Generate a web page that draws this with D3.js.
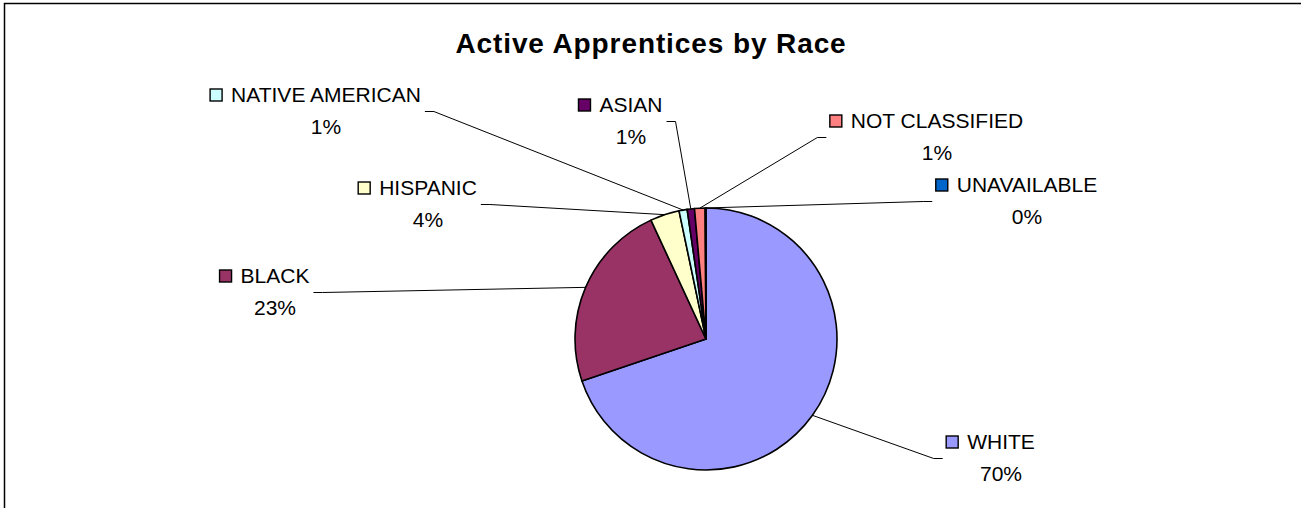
<!DOCTYPE html>
<html>
<head>
<meta charset="utf-8">
<script src="https://cdn.jsdelivr.net/npm/d3@7"></script>
<style>
  body { margin: 0; background: #fff; overflow: hidden; }
  svg { display: block; }
  text { font-family: "Liberation Sans", Arial, sans-serif; fill: #000; }
</style>
</head>
<body>
<div class="content"></div>
<script>
var categories = ['WHITE', 'BLACK', 'HISPANIC', 'NATIVE AMERICAN', 'ASIAN', 'NOT CLASSIFIED', 'UNAVAILABLE'];
var values = [69.8, 23.3, 3.6, 1.0, 0.9, 1.3, 0.1];
var colors = ['#9999FF', '#993366', '#FFFFCC', '#CCFFFF', '#660066', '#FF8080', '#0066CC'];
var title = 'Active Apprentices by Race';

// where the labels were dragged to (text centre x, first baseline y)
var labelPos = [
    [1001, 449], [275, 283], [428, 195], [326, 102],
    [631, 112], [937, 128], [1027, 192]
];

var chart = {
    width: 1301,
    height: 508,
    cx: 706,
    cy: 339,
    radius: 131,
    fontSize: 21,
    lineGap: 32
};

window.onload = function() {
    var svg = d3.select('.content').append('svg')
        .attr('width', chart.width)
        .attr('height', chart.height);

    // chart frame: only the top and left edges fall inside the picture
    svg.append('path')
        .attr('d', 'M4.5,' + chart.height + 'V3.5H' + chart.width)
        .style('fill', 'none')
        .style('stroke', '#000')
        .style('stroke-width', 1.5);

    svg.append('text')
        .attr('x', 651).attr('y', 53)
        .attr('text-anchor', 'middle')
        .style('font-size', '28px')
        .style('font-weight', 'bold')
        .style('letter-spacing', '0.9px')
        .text(title);

    var data = categories.map(function(c, i) {
        return { name: c, value: values[i], color: colors[i] };
    });
    var total = d3.sum(values);
    var fmt = d3.format('.0%');

    var pie = d3.pie().sort(null).value(function(d) { return d.value; });
    var arcs = pie(data);
    var arc = d3.arc().innerRadius(0).outerRadius(chart.radius);
    var edge = d3.arc().innerRadius(chart.radius).outerRadius(chart.radius);

    var leaders = svg.append('g');
    var g = svg.append('g')
        .attr('transform', 'translate(' + chart.cx + ',' + chart.cy + ')');

    g.selectAll('path.slice')
        .data(arcs)
        .enter().append('path')
        .attr('class', 'slice')
        .attr('d', arc)
        .style('fill', function(d) { return d.data.color; })
        .style('stroke', '#000')
        .style('stroke-width', 1.6)
        .style('stroke-linejoin', 'round');

    var labels = svg.append('g');
    arcs.forEach(function(d, i) {
        var lx = labelPos[i][0], ly = labelPos[i][1];
        var lab = labels.append('g');
        var name = lab.append('text')
            .attr('x', lx).attr('y', ly)
            .attr('text-anchor', 'middle')
            .style('font-size', chart.fontSize + 'px')
            .text(d.data.name);
        lab.append('text')
            .attr('x', lx).attr('y', ly + chart.lineGap)
            .attr('text-anchor', 'middle')
            .style('font-size', chart.fontSize + 'px')
            .text(fmt(d.data.value / total));

        var w = name.node().getComputedTextLength();
        var left = lx - w / 2, right = lx + w / 2;
        var mx = left - 21;
        lab.append('rect')
            .attr('x', mx).attr('y', ly - 13)
            .attr('width', 12).attr('height', 12)
            .style('fill', d.data.color)
            .style('stroke', '#000')
            .style('stroke-width', 1.4);

        // leader line: pie edge -> elbow -> label box edge
        var p = edge.centroid(d);
        var px = chart.cx + p[0], py = chart.cy + p[1];
        var midY = ly + chart.lineGap / 2 - 6.5;
        var bx, ex;
        if (lx > chart.cx) {
            bx = mx - 3.5;
            ex = bx - 9;
        } else {
            bx = right + 4;
            ex = bx + 9;
        }
        leaders.append('path')
            .attr('d', d3.line()([[px, py], [ex, midY], [bx, midY]]))
            .style('fill', 'none')
            .style('stroke', '#000')
            .style('stroke-width', 1);
    });
};
</script>
</body>
</html>
